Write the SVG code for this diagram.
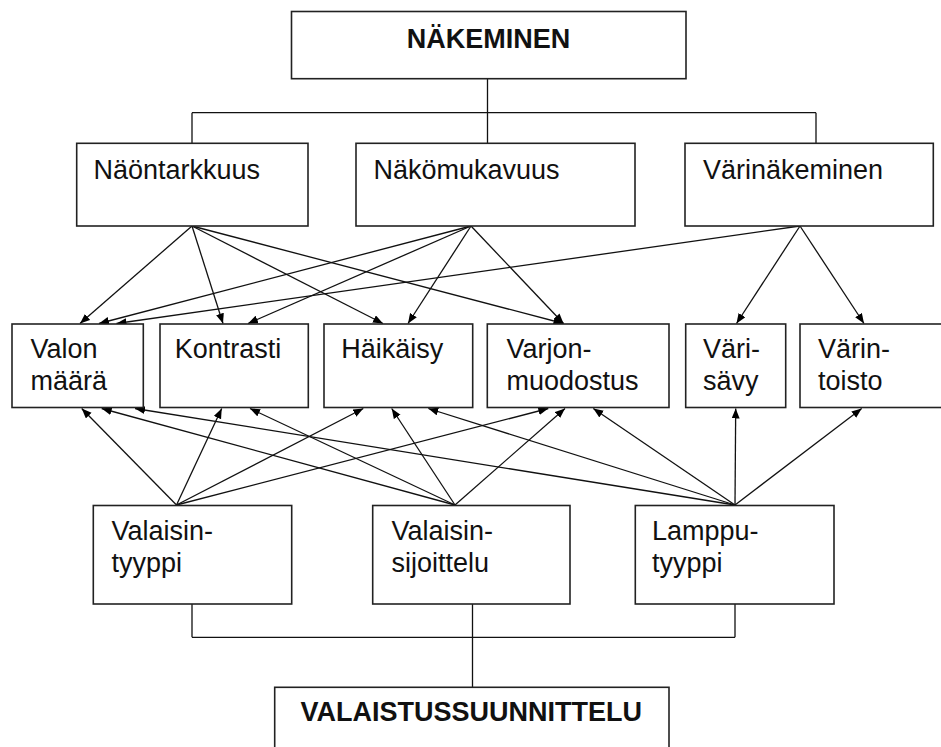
<svg xmlns="http://www.w3.org/2000/svg" width="941" height="747" viewBox="0 0 941 747">
<defs>
<marker id="ah" markerUnits="userSpaceOnUse" markerWidth="11" markerHeight="9" refX="10" refY="4" orient="auto">
<path d="M0,0 L10,4 L0,8 z" fill="#000"/>
</marker>
<style>
.box{fill:#fff;stroke:#222;stroke-width:1.6}
.t{font-family:"Liberation Sans",Arial,sans-serif;font-size:27px;fill:#111}
.b{font-weight:bold;text-anchor:middle}
.ln{stroke:#111;stroke-width:1.3;fill:none}
.ar{stroke:#111;stroke-width:1.3;fill:none;marker-end:url(#ah)}
</style>
</defs>
<rect width="941" height="747" fill="#fff"/>
<g id="connectors">
<path class="ln" d="M487.5,78.7 V112.7 M192,112.7 H816 M192,112.7 V143.3 M487.5,112.7 V143.3 M816,112.7 V143.3"/>
<path class="ln" d="M192,604 V637.3 M472.5,604 V687.3 M735,604 V637.3 M192,637.3 H735"/>
<line class="ar" x1="192" y1="226" x2="80" y2="323.5"/>
<line class="ar" x1="192" y1="226" x2="223" y2="323.5"/>
<line class="ar" x1="192" y1="226" x2="383" y2="323.5"/>
<line class="ar" x1="192" y1="226" x2="563.5" y2="323.5"/>
<line class="ar" x1="471" y1="226" x2="99" y2="323.5"/>
<line class="ar" x1="471" y1="226" x2="248" y2="323.5"/>
<line class="ar" x1="471" y1="226" x2="408" y2="323.5"/>
<line class="ar" x1="471" y1="226" x2="563.5" y2="323.5"/>
<line class="ar" x1="800" y1="226" x2="116.5" y2="323.5"/>
<line class="ar" x1="800" y1="226" x2="736.5" y2="323.5"/>
<line class="ar" x1="800" y1="226" x2="864" y2="323.5"/>
<line class="ar" x1="176.5" y1="505" x2="81.7" y2="408.5"/>
<line class="ar" x1="176.5" y1="505" x2="221.7" y2="408.5"/>
<line class="ar" x1="176.5" y1="505" x2="363.3" y2="408.5"/>
<line class="ar" x1="176.5" y1="505" x2="548.3" y2="408.5"/>
<line class="ar" x1="455" y1="505" x2="101.7" y2="408.5"/>
<line class="ar" x1="455" y1="505" x2="250" y2="408.5"/>
<line class="ar" x1="455" y1="505" x2="391.7" y2="408.5"/>
<line class="ar" x1="455" y1="505" x2="565" y2="408.5"/>
<line class="ar" x1="735" y1="505" x2="135" y2="408.5"/>
<line class="ar" x1="735" y1="505" x2="428.3" y2="408.5"/>
<line class="ar" x1="735" y1="505" x2="593.3" y2="408.5"/>
<line class="ar" x1="735" y1="505" x2="735.7" y2="408.5"/>
<line class="ar" x1="735" y1="505" x2="861.7" y2="408.5"/>
</g>
<g id="nakeminen"><rect class="box" x="291.5" y="11.5" width="394.5" height="67.2"/><text class="t b" x="488.5" y="47.7">NÄKEMINEN</text></g>
<g id="naontarkkuus"><rect class="box" x="76.7" y="143.3" width="231.3" height="82.7"/><text class="t" x="93.5" y="178.5">Näöntarkkuus</text></g>
<g id="nakomukavuus"><rect class="box" x="356" y="143.3" width="279" height="82.7"/><text class="t" x="373.5" y="178.5">Näkömukavuus</text></g>
<g id="varinakeminen"><rect class="box" x="685" y="143.3" width="248.3" height="82.7"/><text class="t" x="703" y="178.5">Värinäkeminen</text></g>
<g id="valon-maara"><rect class="box" x="12" y="324" width="131.3" height="83.5"/><text class="t" x="30.5" y="358.3">Valon</text><text class="t" x="30.5" y="390">määrä</text></g>
<g id="kontrasti"><rect class="box" x="160" y="324" width="148.3" height="83.5"/><text class="t" x="174.7" y="358.3">Kontrasti</text></g>
<g id="haikaisy"><rect class="box" x="324" y="324" width="148.7" height="83.5"/><text class="t" x="341.3" y="358.3">Häikäisy</text></g>
<g id="varjonmuodostus"><rect class="box" x="487.3" y="324" width="181.7" height="83.5"/><text class="t" x="506.5" y="358.3">Varjon-</text><text class="t" x="506.5" y="390">muodostus</text></g>
<g id="varisavy"><rect class="box" x="685.7" y="324" width="100" height="83.5"/><text class="t" x="703" y="358.3">Väri-</text><text class="t" x="703" y="390">sävy</text></g>
<g id="varintoisto"><rect class="box" x="800" y="324" width="150" height="83.5"/><text class="t" x="818" y="358.3">Värin-</text><text class="t" x="818" y="390">toisto</text></g>
<g id="valaisintyyppi"><rect class="box" x="93.3" y="505.5" width="198.4" height="98.5"/><text class="t" x="111.5" y="540">Valaisin-</text><text class="t" x="111.5" y="571.7">tyyppi</text></g>
<g id="valaisinsijoittelu"><rect class="box" x="372.7" y="505.5" width="197.3" height="98.5"/><text class="t" x="391.5" y="540">Valaisin-</text><text class="t" x="391.5" y="571.7">sijoittelu</text></g>
<g id="lampputyyppi"><rect class="box" x="635.3" y="505.5" width="198.7" height="98.5"/><text class="t" x="652" y="540">Lamppu-</text><text class="t" x="652" y="571.7">tyyppi</text></g>
<g id="valaistussuunnittelu"><rect class="box" x="274.7" y="687.3" width="394.3" height="80"/><text class="t b" x="471.3" y="721">VALAISTUSSUUNNITTELU</text></g>
</svg>
